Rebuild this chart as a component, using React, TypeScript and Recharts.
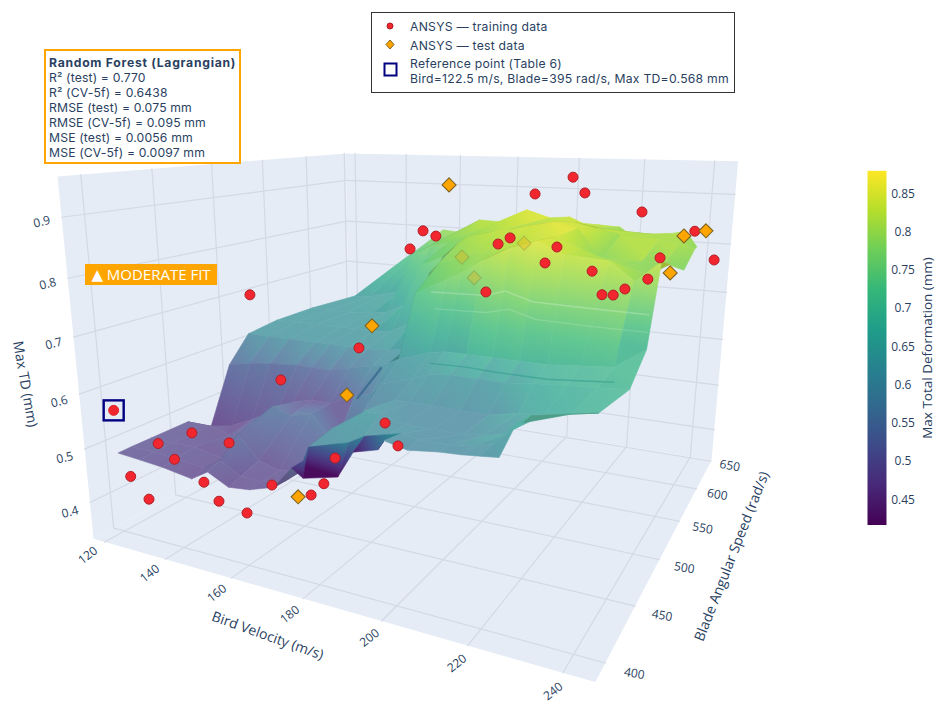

import React from "react";
import { ScatterChart, Scatter, XAxis, YAxis } from "recharts";

const W = 950, H = 711;
const FONT = "'Open Sans', 'DejaVu Sans', sans-serif";
const BOX_FONT = "Inter, 'Open Sans', sans-serif";
const INK = "#2a3f5f";

// Axis ranges and ticks
const BIRD_RANGE = [116.2, 246.4];
const BLADE_RANGE = [385.5, 652];
const TD_RANGE = [0.33, 0.965];
const BIRD_TICKS = [120, 140, 160, 180, 200, 220, 240];
const BLADE_TICKS = [400, 450, 500, 550, 600, 650];
const TD_TICKS = [0.4, 0.5, 0.6, 0.7, 0.8, 0.9];
const CB_TICKS = [0.45, 0.5, 0.55, 0.6, 0.65, 0.7, 0.75, 0.8, 0.85];
const CB_RANGE = [0.416, 0.879];
const VIRIDIS = ["#440154","#482878","#3e4989","#31688e","#26828e","#1f9e89","#35b779","#6ece58","#b5de2b","#fde725"];

// Training points: [bird, blade, td]
const TRAIN: number[][] = [
  [126.3,395,0.451],[131.8,395,0.416],[124.8,420,0.482],[130,420,0.458],[136.4,420,0.516],[149.7,395,0.472],[153.9,395,0.444],[162,395,0.435],
  [128.6,470,0.432],[160.6,420,0.45],[168.7,430,0.43],[172.5,430,0.456],[178.9,420,0.522],[127.4,500,0.711],[137,500,0.543],[163.2,500,0.631],
  [186.9,440,0.57],[195.4,420,0.563],[154.2,600,0.771],[154,620,0.803],[158.6,620,0.793],[192,540,0.733],[189.5,570,0.81],[189.4,590,0.814],
  [191.5,620,0.895],[211.6,520,0.808],[211.4,540,0.827],[203,620,0.932],[209.6,600,0.907],[223.6,520,0.8],[231.5,480,0.788],[234,480,0.789],
  [236.5,480,0.8],[225.9,600,0.875],[239.2,500,0.806],[236.6,550,0.815],[237,640,0.827],[245.9,600,0.792],
];
const TEST_FRONT: number[][] = [[167.5,600,0.913],[161.9,520,0.659],[179.5,430,0.62],[176.5,395,0.484],[235.8,620,0.825],[239.3,650,0.825],[245.9,480,0.83]];
const TEST_BEHIND: number[][] = [[176.3,580,0.773],[184.4,560,0.745],[192,600,0.8]];
const REFERENCE = [122.5, 395, 0.568];

// Random-forest surface, read row by row along the blade axis
const ROW_BLADES = [395, 405, 420, 450, 470, 490, 510, 540, 580, 620, 650];
const COMMON = [130,137,146,151,157,163,170,175,178,187,191,197,204,211];
const ROW_BIRDS: number[][] = [
  [122.7,130,137,146,151,157,163,170,175,178,187,191,197,198.5,204,211,216,220,224],
  [122.5,130,137,146,151,157,163,170,175,176.5,187,191,197,200,204,211,217,221,225],
  [122.5,...COMMON,216,220,223,226],
  [122.5,...COMMON,218,224,230,236],
  [122.5,...COMMON,218,226,233,240],
  [122.5,...COMMON,218,226,234,241],
  [122.5,...COMMON,218,229,235,241],
  [122.5,...COMMON,218,229,235,240],
  [123,...COMMON,218,229,235,240],
  [128,134,140,146,151,157,163,170,175,178,187,191,197,204,211,218,229,235,239],
  [139,146.5,154.4,161.7,167.7,175.8,183.9,191.6,198.1,202.4,208,214,219.4,222,225.3,229,232.5,235,237.1],
];
const ROW_TDS: number[][] = [
  [.49,.486,.482,.473,.492,.473,.477,.491,.53,.517,.531,.576,.587,.603,.595,.601,.603,.606,.609],
  [.49,.49,.485,.48,.50,.48,.478,.49,.53,.555,.575,.59,.60,.605,.60,.60,.605,.615,.64],
  [.49,.49,.49,.48,.53,.49,.48,.49,.53,.57,.61,.61,.6,.6,.6,.605,.61,.63,.646],
  [.49,.49,.48,.52,.55,.54,.55,.5,.52,.57,.6,.6,.6,.6,.6,.61,.615,.622,.63],
  [.46,.47,.49,.52,.54,.55,.55,.57,.58,.6,.62,.63,.635,.635,.635,.64,.645,.648,.652],
  [.57,.58,.585,.59,.59,.59,.6,.61,.62,.63,.65,.655,.655,.655,.655,.655,.66,.665,.70],
  [.62,.62,.62,.62,.62,.62,.62,.625,.63,.74,.77,.784,.81,.835,.85,.83,.825,.795,.83],
  [.628,.63,.63,.63,.63,.63,.635,.66,.76,.78,.80,.805,.815,.83,.845,.825,.80,.79,.81],
  [.63,.63,.63,.635,.64,.66,.75,.77,.80,.815,.83,.835,.845,.855,.845,.79,.79,.79,.78],
  [.637,.64,.65,.66,.75,.77,.78,.79,.8,.81,.82,.82,.83,.84,.83,.82,.815,.81,.80],
  [.715,.752,.794,.79,.822,.82,.85,.835,.839,.827,.825,.823,.798,.80,.811,.815,.82,.81,.791],
];
// Colours that the surface shows at a node where they differ from its height: [row, column, td shown]
const COLOR_NODES: number[][] = [
  [0,9,.43],[0,10,.42],[0,11,.44],[0,12,.47],
  [1,9,.6],[1,10,.61],[1,11,.62],[1,12,.62],[2,9,.62],[2,10,.63],
  [2,16,.65],[2,17,.67],[2,18,.69],[3,15,.65],[3,16,.665],[3,17,.68],[3,18,.69],
  [4,2,.48],[4,3,.48],[4,4,.48],[4,5,.48],[4,6,.49],[4,7,.53],
  [4,15,.675],[4,16,.685],[4,17,.69],[4,18,.7],
  [5,0,.53],[5,1,.54],[5,2,.54],[5,3,.54],[5,4,.54],[5,5,.54],[5,6,.56],[5,7,.6],
  [5,12,.685],[5,13,.69],[5,14,.69],[5,15,.695],[5,16,.7],[5,17,.705],
];
// Fine creases on the surface: [bird, blade, td] lists
const CREASE_DARK: number[][] = [[187,490,.63],[197,490,.632],[204,490,.63],[211,490,.63],[218,490,.63],[226,490,.635],[234,490,.64]];
const CREASE_SLIT: number[][] = [[171,470,.568],[174,485,.614]];
const STRIPE_A: number[][] = [[185,500,.752],[200,500,.755],[205,500,.766],[212,500,.752],[225,500,.75],[240,500,.749]];
const STRIPE_B: number[][] = [[186,500,.722],[200,500,.725],[206,500,.735],[213,500,.722],[226,500,.72],[240,500,.72]];

// Camera anchors: [bird, blade, td, screen x, screen y]
const ANCHORS: number[][] = [
  [116.2,385.5,0.33,95,538],[246.4,385.5,0.33,595,683],[246.4,652,0.33,712,459],[116.2,652,0.33,350,402],
  [116.2,385.5,0.965,58,176],[116.2,652,0.965,346,153],[246.4,652,0.965,738,162],[122.5,395,0.568,112,411],
];

const nrm = (b:number,s:number,z:number)=>[(b-BIRD_RANGE[0])/(BIRD_RANGE[1]-BIRD_RANGE[0]),(s-BLADE_RANGE[0])/(BLADE_RANGE[1]-BLADE_RANGE[0]),(z-TD_RANGE[0])/(TD_RANGE[1]-TD_RANGE[0])];
function fit(){
  const A:number[][]=[];const y:number[]=[];
  for(const [b,s,z,sx,sy] of ANCHORS){const [u,v,w]=nrm(b,s,z);
    A.push([u,v,w,1,0,0,0,0,-sx*u,-sx*v,-sx*w]);y.push(sx);
    A.push([0,0,0,0,u,v,w,1,-sy*u,-sy*v,-sy*w]);y.push(sy);}
  const n=11;const M:number[][]=[];
  for(let i=0;i<n;i++){M.push([]);for(let j=0;j<n;j++){let t=0;for(let k=0;k<A.length;k++)t+=A[k][i]*A[k][j];M[i].push(t);}let t=0;for(let k=0;k<A.length;k++)t+=A[k][i]*y[k];M[i].push(t);}
  for(let c=0;c<n;c++){let p=c;for(let r=c+1;r<n;r++)if(Math.abs(M[r][c])>Math.abs(M[p][c]))p=r;[M[c],M[p]]=[M[p],M[c]];
    for(let r=0;r<n;r++){if(r===c)continue;const f=M[r][c]/M[c][c];for(let k=c;k<=n;k++)M[r][k]-=f*M[c][k];}}
  return M.map((r,i)=>r[n]/r[i]);
}
const P = fit();
type Pt = {sx:number;sy:number;d:number};
const proj=(b:number,s:number,z:number):Pt=>{const [u,v,w]=nrm(b,s,z);const d=P[8]*u+P[9]*v+P[10]*w+1;return {sx:(P[0]*u+P[1]*v+P[2]*w+P[3])/d,sy:(P[4]*u+P[5]*v+P[6]*w+P[7])/d,d};};

const hex=(h:string)=>[parseInt(h.slice(1,3),16),parseInt(h.slice(3,5),16),parseInt(h.slice(5,7),16)];
function viridis(td:number){
  const t=Math.max(0,Math.min(1,(td-CB_RANGE[0])/(CB_RANGE[1]-CB_RANGE[0])))*(VIRIDIS.length-1);
  const i=Math.min(VIRIDIS.length-2,Math.floor(t));const f=t-i;const a=hex(VIRIDIS[i]),b=hex(VIRIDIS[i+1]);
  return [0,1,2].map(k=>a[k]+(b[k]-a[k])*f);
}
const css=(c:number[])=>`rgb(${c.map(x=>Math.round(x)).join(",")})`;
const tone=(c:number[],m:number,k:number)=>c.map(x=>(x+(255-x)*m)*k);

// Background geometry
const B0=BIRD_RANGE[0],B1=BIRD_RANGE[1],S0=BLADE_RANGE[0],S1=BLADE_RANGE[1],Z0=TD_RANGE[0],Z1=TD_RANGE[1];
const center=(pts:Pt[])=>({sx:pts.reduce((a,p)=>a+p.sx,0)/pts.length,sy:pts.reduce((a,p)=>a+p.sy,0)/pts.length});
const poly=(corners:number[][],extra:any={})=>{const pts=corners.map(c=>proj(c[0],c[1],c[2]));return {...center(pts),pts,...extra};};
const WALLS=[
  poly([[B0,S0,Z0],[B1,S0,Z0],[B1,S1,Z0],[B0,S1,Z0]]),
  poly([[B0,S0,Z0],[B0,S1,Z0],[B0,S1,Z1],[B0,S0,Z1]]),
  poly([[B0,S1,Z0],[B1,S1,Z0],[B1,S1,Z1],[B0,S1,Z1]]),
];
const GRID_STYLE={stroke:"#d3d9e5",w:1.2};
const GRID=[
  ...BIRD_TICKS.flatMap(b=>[poly([[b,S0,Z0],[b,S1,Z0]],GRID_STYLE),poly([[b,S1,Z0],[b,S1,Z1]],GRID_STYLE)]),
  ...BLADE_TICKS.flatMap(s=>[poly([[B0,s,Z0],[B1,s,Z0]],GRID_STYLE),poly([[B0,s,Z0],[B0,s,Z1]],GRID_STYLE)]),
  ...TD_TICKS.flatMap(z=>[poly([[B0,S0,z],[B0,S1,z]],GRID_STYLE),poly([[B0,S1,z],[B1,S1,z]],GRID_STYLE)]),
];
const CREASES=[
  poly(CREASE_DARK,{stroke:"#2e9a8b",w:1.4,o:.55}),
  poly(CREASE_SLIT,{stroke:"#37688f",w:2.2,o:.8}),
  poly(STRIPE_A,{stroke:"#ffffff",w:1.6,o:.22}),
  poly(STRIPE_B,{stroke:"#ffffff",w:1.4,o:.16}),
];

// Surface quads, far ones first
type Quad={sx:number;sy:number;pts:Pt[];cols:number[];mix:number;dim:number;id:string;d:number};
function buildQuads(){
  const colorOf=(r:number,c:number)=>{const o=COLOR_NODES.find(n=>n[0]===r&&n[1]===c);return o?o[2]:ROW_TDS[r][c];};
  const q:Quad[]=[];
  for(let r=0;r<ROW_BLADES.length-1;r++)for(let c=0;c<ROW_BIRDS[r].length-1;c++){
    const nodes=[[r,c],[r,c+1],[r+1,c+1],[r+1,c]];
    const pts=nodes.map(([i,j])=>proj(ROW_BIRDS[i][j],ROW_BLADES[i],ROW_TDS[i][j]));
    const n3=nodes.map(([i,j])=>nrm(ROW_BIRDS[i][j],ROW_BLADES[i],ROW_TDS[i][j]));
    const a=[n3[2][0]-n3[0][0],n3[2][1]-n3[0][1],n3[2][2]-n3[0][2]];
    const b=[n3[3][0]-n3[1][0],n3[3][1]-n3[1][1],n3[3][2]-n3[1][2]];
    const nx=a[1]*b[2]-a[2]*b[1],ny=a[2]*b[0]-a[0]*b[2],nz=a[0]*b[1]-a[1]*b[0];
    const up=Math.abs(nz)/Math.sqrt(nx*nx+ny*ny+nz*nz+1e-9);
    const cols=nodes.map(([i,j])=>colorOf(i,j));
    const pit=nodes.some(([i,j])=>i===0&&j>=9&&j<=12);
    let area=0;for(let k=0;k<4;k++){const p=pts[k],t=pts[(k+1)%4];area+=p.sx*t.sy-t.sx*p.sy;}
    const mean=cols.reduce((s,v)=>s+v,0)/4;
    const mix=pit?0.03:(0.17+0.12*up)*(mean>0.77?0.5:1);
    q.push({...center(pts),pts,cols,mix,dim:area>0?0.82:1,id:`q${r}_${c}`,d:pts.reduce((s,p)=>s+p.d,0)/4});
  }
  return q.sort((a,b)=>b.d-a.d);
}
const QUADS=buildQuads();

const toPt=(m:number[])=>proj(m[0],m[1],m[2]);
const TRAIN_PTS=TRAIN.map(toPt), FRONT_PTS=TEST_FRONT.map(toPt), BEHIND_PTS=TEST_BEHIND.map(toPt), REF_PTS=[toPt(REFERENCE)];

// Axis texts
type Label={sx:number;sy:number;text:string;rot:number;size?:number};
const BIRD_LABELS:Label[]=BIRD_TICKS.map((b,i)=>{const p=proj(b,S0,Z0);const k=i/6;return {sx:p.sx-17+k*7,sy:p.sy+13+k*5,text:String(b),rot:-38};});
const BLADE_LABELS:Label[]=BLADE_TICKS.map((s,i)=>{const p=proj(B1,s,Z0);return {sx:p.sx+29-i*2,sy:p.sy+10-i*1.2,text:String(s),rot:10};});
const TD_LABELS:Label[]=TD_TICKS.map(z=>{const p=proj(B0,S0,z);return {sx:p.sx-20,sy:p.sy+4+(0.9-z)*10,text:String(z),rot:-14};});
const TITLES:Label[]=[
  {sx:268,sy:635,text:"Bird Velocity (m/s)",rot:19.7,size:14},
  {sx:731,sy:556,text:"Blade Angular Speed (rad/s)",rot:-68.5,size:14},
  {sx:26,sy:384,text:"Max TD (mm)",rot:80,size:14},
  {sx:927,sy:348,text:"Max Total Deformation (mm)",rot:-90,size:13.5},
];
const cbY=(td:number)=>499-(td-0.45)*765;
const CB_LABELS:Label[]=CB_TICKS.map(t=>({sx:903,sy:cbY(t),text:String(t),rot:0}));
const CB_BAR=[{sx:877,sy:(cbY(CB_RANGE[0])+cbY(CB_RANGE[1]))/2,top:cbY(CB_RANGE[1]),bottom:cbY(CB_RANGE[0])}];

const polyShape=(fill:string)=>(props:any)=>{
  const {cx,cy,payload}=props;
  const s=payload.pts.map((p:Pt)=>`${cx+p.sx-payload.sx},${cy+p.sy-payload.sy}`).join(" ");
  return <polygon points={s} fill={fill}/>;
};
const lineShape=(props:any)=>{
  const {cx,cy,payload}=props;
  const s=payload.pts.map((p:Pt)=>`${cx+p.sx-payload.sx},${cy+p.sy-payload.sy}`).join(" ");
  return <polyline points={s} fill="none" stroke={payload.stroke} strokeWidth={payload.w} strokeOpacity={payload.o??1} strokeLinejoin="round" strokeLinecap="round"/>;
};
const quadShape=(props:any)=>{
  const {cx,cy,payload}=props as {cx:number;cy:number;payload:Quad};
  const xy=payload.pts.map(p=>[cx+p.sx-payload.sx,cy+p.sy-payload.sy]);
  const s=xy.map(p=>p.join(",")).join(" ");
  let lo=0,hi=0;payload.cols.forEach((v,i)=>{if(v<payload.cols[lo])lo=i;if(v>payload.cols[hi])hi=i;});
  const vLo=payload.cols[lo],vHi=payload.cols[hi];
  if(vHi-vLo<0.004){const c=css(tone(viridis(vLo),payload.mix,payload.dim));return <polygon points={s} fill={c} stroke={c} strokeWidth={0.6}/>;}
  const stops=[0,.25,.5,.75,1];
  const fill=`url(#${payload.id})`;
  return <g>
    <defs><linearGradient id={payload.id} gradientUnits="userSpaceOnUse" x1={xy[lo][0]} y1={xy[lo][1]} x2={xy[hi][0]} y2={xy[hi][1]}>
      {stops.map(t=><stop key={t} offset={t} stopColor={css(tone(viridis(vLo+(vHi-vLo)*t),payload.mix,payload.dim))}/>)}
    </linearGradient></defs>
    <polygon points={s} fill={fill} stroke={fill} strokeWidth={0.6}/>
  </g>;
};
const dot=(props:any)=><circle cx={props.cx} cy={props.cy} r={5} fill="#f1262e" stroke="#b02028" strokeWidth={1}/>;
const diamond=(op:number)=>(props:any)=>{const {cx,cy}=props;const r=7;
  return <polygon points={`${cx},${cy-r} ${cx+r},${cy} ${cx},${cy+r} ${cx-r},${cy}`} fill="#ffa500" stroke="#7d6320" strokeWidth={1.1} opacity={op}/>;};
const refMark=(props:any)=>{const {cx,cy}=props;return <g>
  <rect x={cx-10} y={cy-10} width={20} height={20} fill="none" stroke="#000080" strokeWidth={2.4}/>
  <circle cx={cx} cy={cy} r={5} fill="#f1262e" stroke="#e0262e" strokeWidth={1}/></g>;};
const textShape=(anchor:string)=>(props:any)=>{
  const {cx,cy,payload}=props;
  return <text x={cx} y={cy} fill={INK} fontFamily={FONT} fontSize={payload.size??12} textAnchor={anchor as any} dominantBaseline="central" transform={`rotate(${payload.rot} ${cx} ${cy})`}>{payload.text}</text>;
};
const barShape=(props:any)=>{
  const {cx,payload}=props;
  return <g>
    <defs><linearGradient id="cbGrad" x1="0" y1="1" x2="0" y2="0">
      {VIRIDIS.map((c,i)=><stop key={c} offset={i/(VIRIDIS.length-1)} stopColor={c}/>)}
    </linearGradient></defs>
    <rect x={cx-9.5} y={payload.top} width={19} height={payload.bottom-payload.top} fill="url(#cbGrad)"/>
  </g>;
};

const INFO_LINES=["R² (test) = 0.770","R² (CV-5f) = 0.6438","RMSE (test) = 0.075 mm","RMSE (CV-5f) = 0.095 mm","MSE (test) = 0.0056 mm","MSE (CV-5f) = 0.0097 mm"];
const abs=(l:number,t:number,extra:React.CSSProperties={}):React.CSSProperties=>({position:"absolute",left:l,top:t,whiteSpace:"nowrap",fontFamily:BOX_FONT,color:INK,...extra});

export default function App(){
  const S=(key:string,data:any[],shape:any)=><Scatter key={key} data={data} shape={shape} isAnimationActive={false}/>;
  return (
    <div style={{position:"absolute",left:0,top:0,width:W,height:H,background:"#fff",overflow:"hidden"}}>
      <ScatterChart width={W} height={H} margin={{top:0,right:0,bottom:0,left:0}}>
        <XAxis type="number" dataKey="sx" domain={[0,W]} hide/>
        <YAxis type="number" dataKey="sy" domain={[0,H]} reversed hide/>
        {S("walls",WALLS,polyShape("#e5ecf6"))}
        {S("grid",GRID,lineShape)}
        {S("surface",QUADS,quadShape)}
        {S("creases",CREASES,lineShape)}
        {S("behind",BEHIND_PTS,diamond(0.28))}
        {S("train",TRAIN_PTS,dot)}
        {S("test",FRONT_PTS,diamond(1))}
        {S("ref",REF_PTS,refMark)}
        {S("birdLabels",BIRD_LABELS,textShape("middle"))}
        {S("bladeLabels",BLADE_LABELS,textShape("middle"))}
        {S("tdLabels",TD_LABELS,textShape("middle"))}
        {S("titles",TITLES,textShape("middle"))}
        {S("bar",CB_BAR,barShape)}
        {S("cbLabels",CB_LABELS,textShape("middle"))}
      </ScatterChart>

      <div style={abs(44,49,{width:197,height:115,boxSizing:"border-box",border:"2px solid #ffa500",background:"#fff",fontSize:12.2,lineHeight:"15px",padding:"4px 0 0 3px",letterSpacing:0.15})}>
        <div style={{fontWeight:700,letterSpacing:0.72}}>Random Forest (Lagrangian)</div>
        {INFO_LINES.map(l=><div key={l}>{l}</div>)}
      </div>

      <div style={abs(85,264,{width:132,height:21,background:"#ffa500",color:"#fff",fontFamily:FONT,fontSize:15,lineHeight:"21px",textAlign:"center"})}>▲ MODERATE FIT</div>

      <div style={abs(371,12,{width:364,height:81,boxSizing:"border-box",border:"1px solid #333",background:"#fff",fontSize:12.2,letterSpacing:0.25})}>
        <svg width={362} height={79} style={{position:"absolute",left:0,top:0}}>
          <circle cx={18} cy={13} r={3} fill="#f1262e" stroke="#a81c24"/>
          <polygon points="18,27 22,31.5 18,36 14,31.5" fill="#ffa500" stroke="#7d6320"/>
          <rect x={12.5} y={50.5} width={12} height={12} fill="none" stroke="#000080" strokeWidth={2}/>
        </svg>
        <div style={abs(38,6,{lineHeight:"15px"})}>ANSYS — training data</div>
        <div style={abs(38,25,{lineHeight:"15px"})}>ANSYS — test data</div>
        <div style={abs(38,43,{lineHeight:"15px"})}>Reference point (Table 6)</div>
        <div style={abs(38,58,{lineHeight:"15px"})}>Bird=122.5 m/s, Blade=395 rad/s, Max TD=0.568 mm</div>
      </div>
    </div>
  );
}
